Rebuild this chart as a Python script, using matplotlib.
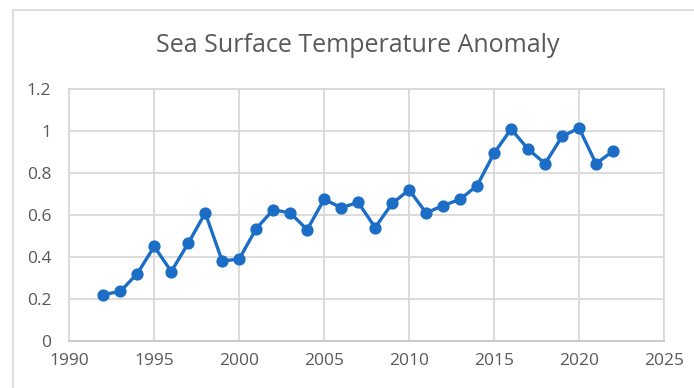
import matplotlib
matplotlib.use("Agg")
import matplotlib.pyplot as plt
from matplotlib.lines import Line2D

# data
years = list(range(1992, 2023))
anomaly = [0.22, 0.235, 0.32, 0.45, 0.33, 0.465, 0.61, 0.38, 0.39, 0.535,
           0.625, 0.61, 0.53, 0.675, 0.635, 0.66, 0.54, 0.655, 0.72, 0.61,
           0.645, 0.675, 0.74, 0.895, 1.01, 0.915, 0.845, 0.975, 1.015, 0.845,
           0.905]
x_ticks = [1990, 1995, 2000, 2005, 2010, 2015, 2020, 2025]
y_ticks = [0, 0.2, 0.4, 0.6, 0.8, 1, 1.2]
y_labels = ["0", "0.2", "0.4", "0.6", "0.8", "1", "1.2"]

plt.rcParams['font.family'] = ['Open Sans', 'DejaVu Sans']
text_gray = '#595959'
grid_gray = '#d9d9d9'
line_blue = '#1c6dc6'

W, H = 694, 388
fig = plt.figure(figsize=(W / 100, H / 100), dpi=100)

# chart-area border (only top and left visible in the crop)
fig.add_artist(Line2D([13 / W, 1], [1 - 9.5 / H, 1 - 9.5 / H], color=grid_gray, lw=1.2))
fig.add_artist(Line2D([13 / W, 13 / W], [0, 1 - 9.5 / H], color=grid_gray, lw=1.2))

ax = fig.add_axes([69.3 / W, 1 - 340.7 / H, (664 - 69.3) / W, (340.7 - 89.3) / H])
ax.plot(years, anomaly, color=line_blue, lw=2.4, marker='o', markersize=7.8,
        clip_on=False, zorder=3)

ax.set_xlim(1990, 2025)
ax.set_ylim(0, 1.2)
ax.set_xticks(x_ticks)
ax.set_yticks(y_ticks)
ax.set_yticklabels(y_labels)
ax.grid(True, color=grid_gray, lw=1.3)
ax.set_axisbelow(True)
for s in ax.spines.values():
    s.set_color(grid_gray)
    s.set_linewidth(1.3)
ax.spines['bottom'].set_color('#c8c8c8')
ax.tick_params(axis='both', length=0, labelsize=12.5, labelcolor=text_gray)
ax.tick_params(axis='y', pad=13)
ax.tick_params(axis='x', pad=9)

fig.text(358 / W, 1 - 46 / H, 'Sea Surface Temperature Anomaly', ha='center', va='center',
         fontsize=18, color=text_gray)

fig.savefig('out.png', dpi=100)
